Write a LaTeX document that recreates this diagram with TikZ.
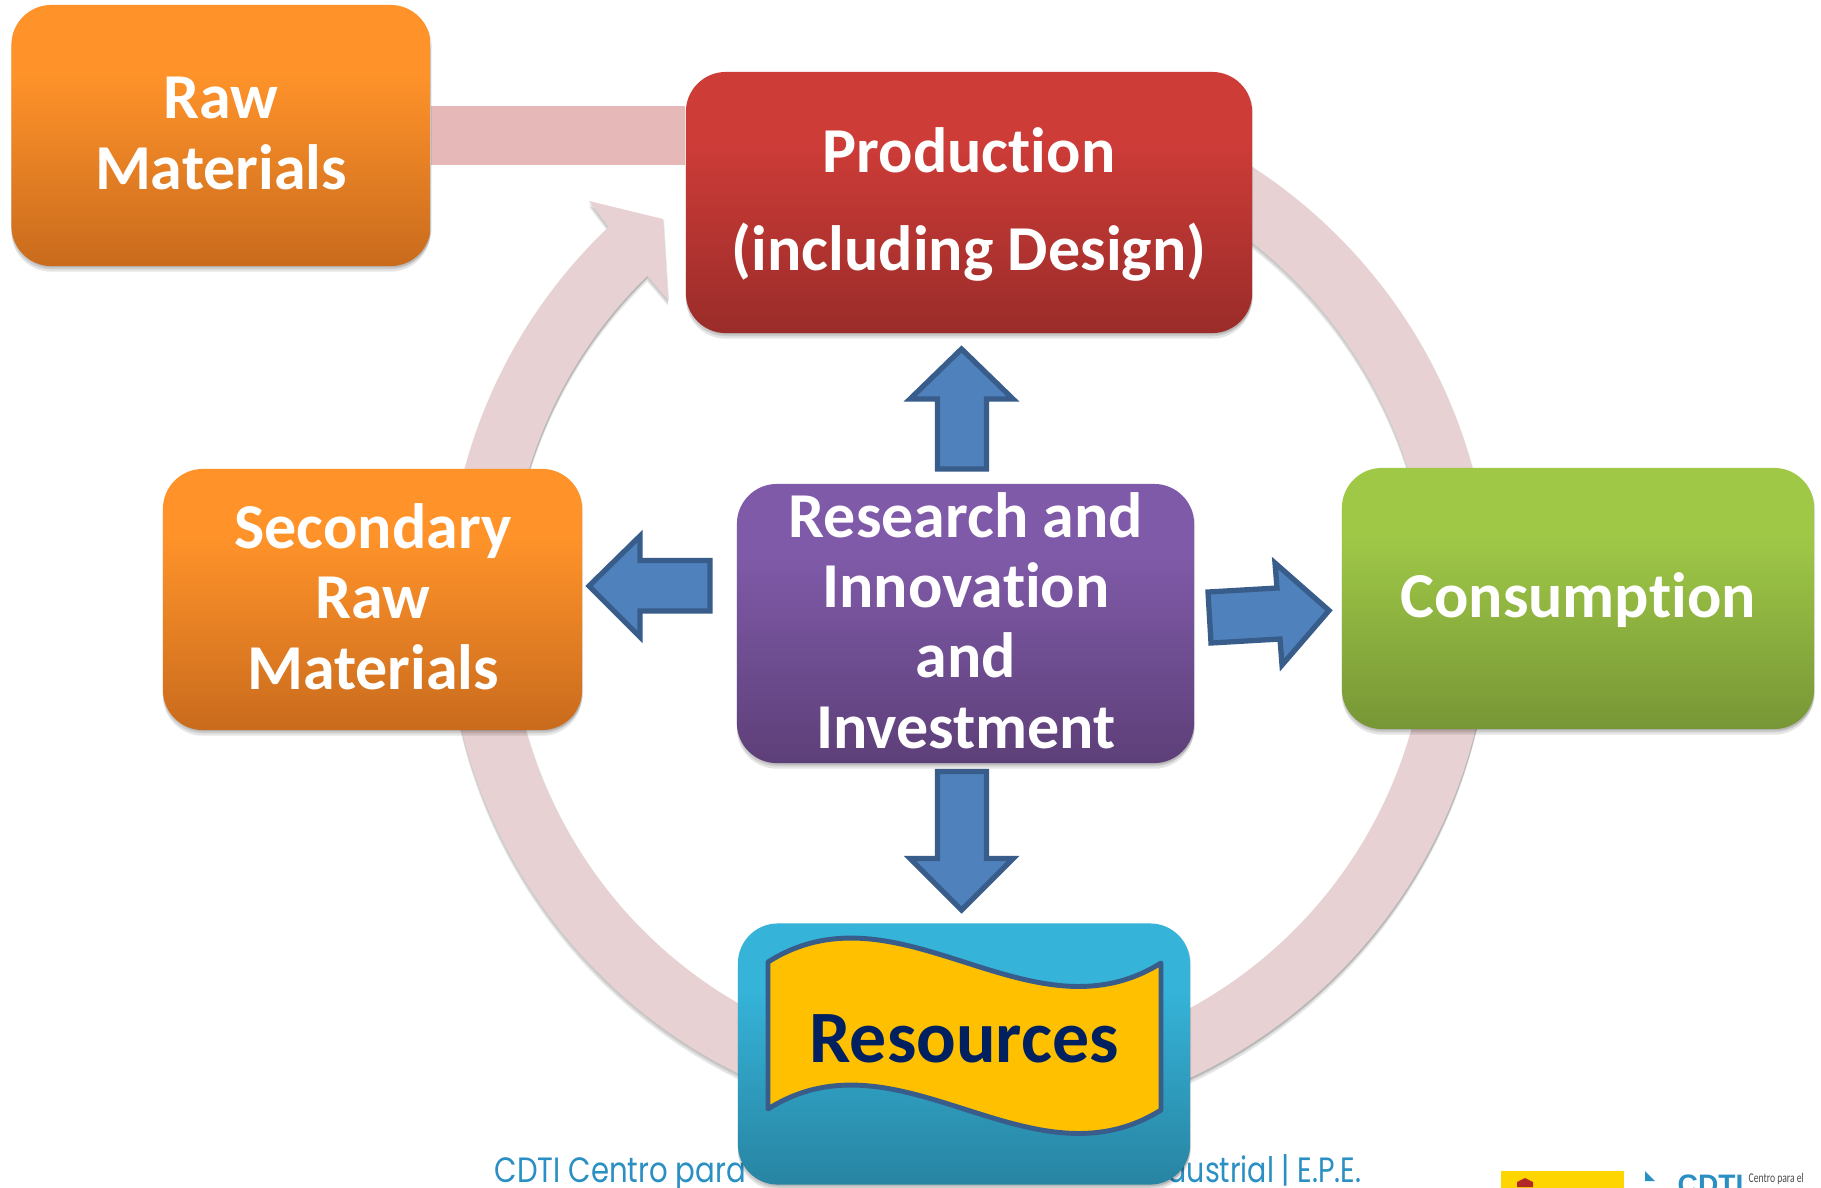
\documentclass[tikz,border=0pt]{standalone}
\usepackage{fontspec}
\setmainfont{Carlito}[Ligatures=CommonOff]
\newfontfamily\footfont{Poppins}
\newfontfamily\logofont{Liberation Sans}
\usetikzlibrary{shadows,backgrounds,calc}
\definecolor{orT}{HTML}{FF932A}\definecolor{orB}{HTML}{C96B1D}
\definecolor{reT}{HTML}{CE3C38}\definecolor{reB}{HTML}{9A2C29}
\definecolor{puT}{HTML}{7F5AA8}\definecolor{puB}{HTML}{5D3F78}
\definecolor{grT}{HTML}{9FC847}\definecolor{grB}{HTML}{779636}
\definecolor{teT}{HTML}{35B3D8}\definecolor{teB}{HTML}{2884A2}
\definecolor{ringc}{HTML}{E8D1D2}\definecolor{barc}{HTML}{E6B8B7}
\definecolor{arrF}{HTML}{4F81BD}\definecolor{arrD}{HTML}{385D8A}
\definecolor{footc}{HTML}{2A8FC2}\definecolor{banF}{HTML}{FFC000}
\definecolor{navy}{HTML}{002060}\definecolor{logoY}{HTML}{FFD500}\definecolor{logoR}{HTML}{B22828}
\pgfdeclareverticalshading{orS}{100bp}{color(0bp)=(orB);color(25bp)=(orB);color(62bp)=(orT);color(100bp)=(orT)}
\pgfdeclareverticalshading{reS}{100bp}{color(0bp)=(reB);color(25bp)=(reB);color(62bp)=(reT);color(100bp)=(reT)}
\pgfdeclareverticalshading{puS}{100bp}{color(0bp)=(puB);color(25bp)=(puB);color(62bp)=(puT);color(100bp)=(puT)}
\pgfdeclareverticalshading{grS}{100bp}{color(0bp)=(grB);color(25bp)=(grB);color(62bp)=(grT);color(100bp)=(grT)}
\pgfdeclareverticalshading{teS}{100bp}{color(0bp)=(teB);color(25bp)=(teB);color(62bp)=(teT);color(100bp)=(teT)}
\tikzset{
  softshadow/.style={
    general shadow={fill=black,opacity=.10,shadow xshift=0pt,shadow yshift=-1.6pt},
    general shadow={fill=black,opacity=.10,shadow xshift=0pt,shadow yshift=-.9pt},
    general shadow={fill=black,opacity=.10,shadow xshift=.3pt,shadow yshift=-.4pt}},
  boxnode/.style={rectangle,rounded corners=.4cm,inner sep=0pt,softshadow},
  labeltext/.style={text=white,font=\fontsize{18.2}{20}\selectfont\bfseries,align=center,inner sep=0pt},
  blockarrow/.style={fill=arrF,draw=arrD,line width=1.5pt,line join=miter},
  banner/.style={fill=banF,draw=arrD,line width=1.4pt,line join=round},
  ringshape/.style={fill=ringc,softshadow},
  barline/.style={draw=barc,line width=16.5pt},
}
\begin{document}
\begin{tikzpicture}[x=.01cm,y=-.01cm]
\useasboundingbox (0,0) rectangle (1821,1187);
\clip (0,0) rectangle (1821,1187);
\coordinate (ringcenter) at (968.5,605);
% boxes
\node[boxnode,shading=orS,minimum width=4.19cm,minimum height=2.61cm] (rawbox) at (221,135.5) {};
\node[boxnode,shading=reS,minimum width=5.66cm,minimum height=2.61cm] (prodbox) at (969,202.5) {};
\node[boxnode,shading=orS,minimum width=4.19cm,minimum height=2.61cm] (secbox) at (372.5,599.5) {};
\node[boxnode,shading=puS,minimum width=4.57cm,minimum height=2.79cm] (resbox) at (965.5,623.5) {};
\node[boxnode,shading=grS,minimum width=4.72cm,minimum height=2.61cm] (conbox) at (1578,598.5) {};
\node[boxnode,shading=teS,minimum width=4.52cm,minimum height=2.61cm] (resourcebox) at (964,1054) {};
\begin{scope}[on background layer]
  \fill[white] (0,0) rectangle (1821,1187);
  \node[anchor=base west,inner sep=0pt,text=footc,font=\footfont\fontsize{10}{12}\selectfont] (footleft) at (494,1182) {\scalebox{.83}[1]{CDTI Centro para}};
  \node[anchor=base east,inner sep=0pt,text=footc,font=\footfont\fontsize{10}{12}\selectfont] (footright) at (1362,1182) {\scalebox{.81}[1]{dustrial | E.P.E.}};
  \path[ringshape] (ringcenter) ++(226.4:522) arc[start angle=226.4,end angle=-120,radius=522]
     -- ($(ringcenter)+(-120:460)$) arc[start angle=-120,end angle=225.7,radius=460]
     -- (668,300) -- (663,219) -- (589,201) -- cycle;
  \draw[barline] (rawbox.east) -- (rawbox.east -| prodbox.west);
\end{scope}
% arrows
\draw[blockarrow] (961.5,349) -- (1013,399) -- (986.5,399) -- (986.5,469) -- (937.5,469) -- (937.5,399) -- (910,399) -- cycle;
\draw[blockarrow] (961.5,910) -- (1013,858.5) -- (986.5,858.5) -- (986.5,771.5) -- (937.5,771.5) -- (937.5,858.5) -- (910,858.5) -- cycle;
\draw[blockarrow] (589,586) -- (640,536) -- (640,560.5) -- (710,560.5) -- (710,611) -- (640,611) -- (640,637) -- cycle;
\draw[blockarrow] (1329,610.5) -- (1275,563) -- (1277,588) -- (1208,592) -- (1211,643) -- (1280,639) -- (1282,665) -- cycle;
% banner
\path[banner] (768,962) .. controls (899,879) and (1030,1045) .. (1161,963) -- (1161,1110) .. controls (1030,1192) and (899,1026) .. (768,1109) -- cycle;
% labels
\node[labeltext] (rawtext) at (221,133.5) {Raw\\Materials};
\node[labeltext,font=\fontsize{18.2}{27.7}\selectfont\bfseries] (prodtext) at (969,204.5) {Production\\(including Design)};
\node[labeltext] (sectext) at (373,596.5) {Secondary\\Raw\\Materials};
\node[labeltext] (restext) at (966,620.5) {Research and\\Innovation\\and\\Investment};
\node[labeltext] (context) at (1578,600.5) {Consumption};
\node[inner sep=0pt,text=navy,font=\fontsize{21}{24}\selectfont\bfseries] (resourcetext) at (964,1039) {Resources};
% logo
\fill[logoY] (1501,1171) rectangle (1624,1190);
\fill[logoR] (1517,1187) -- (1517,1182) -- (1525,1178) -- (1533,1182) -- (1533,1187) -- cycle;
\fill[footc] (1645,1171) -- (1655,1181) -- (1645,1181) -- cycle;
\node[anchor=base west,inner sep=0pt,text=footc,font=\logofont\bfseries\fontsize{8}{9}\selectfont] (logoname) at (1677,1194) {CDTI};
\node[anchor=base west,inner sep=0pt,text=black!70,font=\fontsize{3.8}{4.4}\selectfont] (logotext) at (1748,1182) {\scalebox{.72}[1]{Centro para el}};
\end{tikzpicture}
\end{document}
